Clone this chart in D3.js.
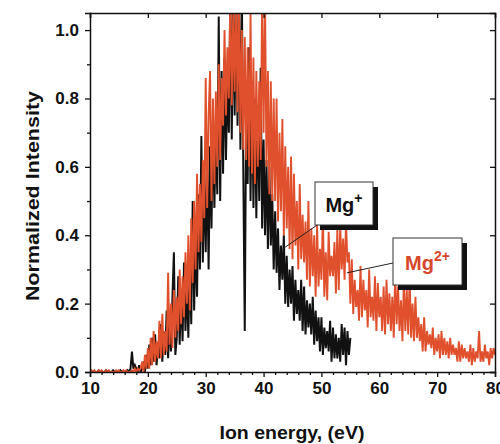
<!DOCTYPE html>
<html>
<head>
<meta charset="utf-8">
<script src="https://cdn.jsdelivr.net/npm/d3@7"></script>
<style>
  body { margin: 0; background: #fff; }
  svg text { font-family: "Liberation Sans", Arial, sans-serif; font-weight: bold; }
</style>
</head>
<body>
<svg id="chart" width="500" height="444"></svg>
<script>
// Ion energy grid of the traces: first point and spacing, in eV
var energyStart = 10;
var energyStep = 0.25;

// Mg+ trace, 10 .. 55 eV, one row per eV
var mgPlus = [
  0, 0, 0, 0,
  0, 0, 0.005, 0,
  0, 0, 0, 0.005,
  0, 0, 0, 0,
  0.005, 0, 0, 0,
  0, 0.005, 0, 0,
  0, 0, 0.005, 0,
  0.01, 0.06, 0.01, 0.02,
  0.01, 0, 0.02, 0,
  0.01, 0.03, 0, 0.05,
  0.01, 0.08, 0.02, 0.1,
  0.03, 0.11, 0.02, 0.07,
  0.04, 0.14, 0.03, 0.12,
  0.05, 0.18, 0.04, 0.15,
  0.06, 0.22, 0.35, 0.05,
  0.1, 0.28, 0.08, 0.24,
  0.09, 0.32, 0.12, 0.26,
  0.1, 0.33, 0.14, 0.5,
  0.18, 0.4, 0.22, 0.52,
  0.3, 0.69, 0.32, 0.58,
  0.35, 0.62, 0.3, 0.66,
  0.42, 0.72, 0.48, 0.7,
  0.52, 1.04, 0.5, 0.88,
  0.58, 0.92, 0.62, 0.85,
  0.7, 1.1, 0.68, 1.1,
  0.75, 1.1, 0.72, 1.1,
  0.65, 1.1, 0.58, 0.12,
  0.8, 0.55, 0.95, 0.5,
  0.85, 0.48, 0.8, 0.45,
  0.78, 0.5, 0.89, 0.42,
  0.68, 0.4, 0.62, 0.36,
  0.6, 0.37, 0.52, 0.3,
  0.47, 0.29, 0.42, 0.24,
  0.37, 0.27, 0.4, 0.2,
  0.34, 0.19, 0.3, 0.2,
  0.31, 0.15, 0.27, 0.17,
  0.24, 0.15, 0.27, 0.12,
  0.25, 0.11, 0.21, 0.13,
  0.2, 0.11, 0.22, 0.08,
  0.18, 0.09, 0.16, 0.06,
  0.16, 0.05, 0.13, 0.07,
  0.12, 0.06, 0.15, 0.03,
  0.13, 0.04, 0.11, 0.04,
  0.1, 0.03, 0.14, 0.05,
  0.13, 0.02, 0.12, 0.05,
  0.1
];

// Mg2+ trace, 10 .. 80 eV, one row per eV
var mgTwoPlus = [
  0, 0.005, 0, 0.005,
  0, 0, 0.005, 0,
  0.005, 0, 0, 0.005,
  0, 0.005, 0, 0,
  0, 0, 0.005, 0,
  0.005, 0, 0, 0.005,
  0, 0.005, 0, 0,
  0, 0.005, 0, 0.01,
  0, 0.01, 0.005, 0.01,
  0.03, 0, 0.05, 0.01,
  0.07, 0.01, 0.1, 0.02,
  0.12, 0.03, 0.09, 0.04,
  0.15, 0.04, 0.17, 0.05,
  0.12, 0.06, 0.29, 0.08,
  0.2, 0.07, 0.24, 0.1,
  0.22, 0.12, 0.3, 0.14,
  0.28, 0.16, 0.35, 0.2,
  0.4, 0.18, 0.45, 0.26,
  0.5, 0.3, 0.58, 0.35,
  0.55, 0.38, 0.62, 0.45,
  0.86, 0.48, 0.75, 0.88,
  0.5, 0.8, 0.55, 0.82,
  0.6, 0.9, 0.62, 0.86,
  0.72, 1.0, 0.75, 0.95,
  0.8, 1.1, 0.78, 1.05,
  0.82, 1.1, 0.76, 1.1,
  0.7, 1.0, 0.65, 0.98,
  0.62, 0.95, 0.6, 1.05,
  0.58, 0.92, 0.55, 0.88,
  0.6, 0.85, 0.62, 1.1,
  0.7, 1.1, 0.6, 0.88,
  0.52, 0.85, 0.5, 0.8,
  0.5, 0.8, 0.44, 0.7,
  0.47, 0.74, 0.4, 0.66,
  0.42, 0.6, 0.36, 0.63,
  0.33, 0.58, 0.37, 0.5,
  0.3, 0.55, 0.33, 0.46,
  0.32, 0.44, 0.27, 0.5,
  0.25, 0.42, 0.28, 0.4,
  0.22, 0.43, 0.25, 0.36,
  0.27, 0.46, 0.22, 0.35,
  0.21, 0.41, 0.28, 0.34,
  0.28, 0.38, 0.23, 0.42,
  0.24, 0.43, 0.3, 0.39,
  0.27, 0.44, 0.32, 0.35,
  0.2, 0.33, 0.17, 0.27,
  0.19, 0.24, 0.15, 0.31,
  0.16, 0.27, 0.18, 0.24,
  0.13, 0.3, 0.16, 0.22,
  0.15, 0.28, 0.12, 0.26,
  0.16, 0.22, 0.12, 0.25,
  0.11, 0.27, 0.14, 0.23,
  0.12, 0.22, 0.1, 0.29,
  0.14, 0.25, 0.12, 0.21,
  0.09, 0.27, 0.12, 0.24,
  0.11, 0.28, 0.1, 0.2,
  0.09, 0.22, 0.1, 0.16,
  0.09, 0.14, 0.06, 0.16,
  0.06, 0.12, 0.08, 0.11,
  0.07, 0.13, 0.05, 0.1,
  0.06, 0.11, 0.04, 0.12,
  0.05, 0.1, 0.05, 0.09,
  0.04, 0.1, 0.05, 0.08,
  0.05, 0.07, 0.03, 0.09,
  0.03, 0.08, 0.04, 0.07,
  0.04, 0.06, 0.03, 0.08,
  0.02, 0.07, 0.03, 0.06,
  0.04, 0.12, 0.03, 0.06,
  0.03, 0.08, 0.04, 0.06,
  0.02, 0.07, 0.04, 0.07,
  0.05
];

var xTicks = [10, 20, 30, 40, 50, 60, 70, 80];
var xMinorTicks = [12, 14, 16, 18, 22, 24, 26, 28, 32, 34, 36, 38, 42, 44, 46, 48,
                   52, 54, 56, 58, 62, 64, 66, 68, 72, 74, 76, 78];
var yTicks = [0, 0.2, 0.4, 0.6, 0.8, 1.0];
var yMinorTicks = [0.1, 0.3, 0.5, 0.7, 0.9];

// Labels on the picture: text, colour, box and the trace point the leader line touches
var labels = [
  { base: "Mg", sup: "+", colour: "#111", box: [315, 182, 58, 43], from: [320, 223], to: [43.3, 0.36] },
  { base: "Mg", sup: "2+", colour: "#d8452b", box: [393, 238, 69, 47], from: [393, 263], to: [54.4, 0.29] }
];

var margin = { top: 13, right: 5, bottom: 72, left: 90 };
var width = 500 - margin.left - margin.right;
var height = 444 - margin.top - margin.bottom;

var svg = d3.select("#chart");
var g = svg.append("g").attr("transform", "translate(" + margin.left + "," + margin.top + ")");

var x = d3.scaleLinear().domain([10, 80]).range([0, width]);
var y = d3.scaleLinear().domain([0, 1.05]).range([height, 0]);

function toPoints(values) {
  return values.map(function (v, i) { return [energyStart + i * energyStep, v]; });
}

g.append("clipPath").attr("id", "plotClip")
  .append("rect").attr("width", width).attr("height", height);

var line = d3.line()
  .x(function (d) { return x(d[0]); })
  .y(function (d) { return y(d[1]); });

var traces = g.append("g").attr("clip-path", "url(#plotClip)");

traces.append("path").datum(toPoints(mgPlus))
  .attr("d", line).attr("fill", "none")
  .attr("stroke", "#111").attr("stroke-width", 2).attr("stroke-linejoin", "miter");

traces.append("path").datum(toPoints(mgTwoPlus))
  .attr("d", line).attr("fill", "none")
  .attr("stroke", "#e0502c").attr("stroke-width", 1.9).attr("stroke-linejoin", "miter");

// Axes. Bottom and left carry labels; top and right only ticks, inside.
function styleAxis(sel) {
  sel.select(".domain").attr("stroke", "#111").attr("stroke-width", 1.5);
  sel.selectAll(".tick line").attr("stroke", "#111").attr("stroke-width", 1.3);
  sel.selectAll(".tick text").attr("fill", "#111").style("font-size", "17px");
  return sel;
}

g.append("g").attr("transform", "translate(0," + height + ")")
  .call(d3.axisBottom(x).tickValues(xMinorTicks).tickSize(3).tickFormat(""))
  .call(styleAxis).select(".domain").remove();
g.append("g").attr("transform", "translate(0," + height + ")")
  .call(d3.axisBottom(x).tickValues(xTicks).tickSize(5).tickPadding(5).tickFormat(d3.format("d")))
  .call(styleAxis);

g.append("g")
  .call(d3.axisLeft(y).tickValues(yMinorTicks).tickSize(3).tickFormat(""))
  .call(styleAxis).select(".domain").remove();
g.append("g")
  .call(d3.axisLeft(y).tickValues(yTicks).tickSize(5).tickPadding(6).tickFormat(d3.format(".1f")))
  .call(styleAxis);

g.append("g")
  .call(d3.axisBottom(x).tickValues(xTicks).tickSize(5).tickFormat(""))
  .call(styleAxis);
g.append("g").attr("transform", "translate(" + width + ",0)")
  .call(d3.axisLeft(y).tickValues(yTicks).tickSize(5).tickFormat(""))
  .call(styleAxis);

// Axis titles
svg.append("text")
  .attr("x", 292).attr("y", 439)
  .attr("text-anchor", "middle").style("font-size", "19px").attr("fill", "#111")
  .attr("textLength", 145).attr("lengthAdjust", "spacingAndGlyphs")
  .text("Ion energy, (eV)");

svg.append("text")
  .attr("transform", "translate(39,196) rotate(-90)")
  .attr("text-anchor", "middle").style("font-size", "19px").attr("fill", "#111")
  .attr("textLength", 210).attr("lengthAdjust", "spacingAndGlyphs")
  .text("Normalized Intensity");

// Labelled boxes with a drop shadow and a leader line to the trace
labels.forEach(function (lab) {
  var b = lab.box;
  svg.append("line")
    .attr("x1", lab.from[0]).attr("y1", lab.from[1])
    .attr("x2", margin.left + x(lab.to[0])).attr("y2", margin.top + y(lab.to[1]))
    .attr("stroke", "#222").attr("stroke-width", 1);
  svg.append("rect")
    .attr("x", b[0] + 5).attr("y", b[1] + 5).attr("width", b[2]).attr("height", b[3])
    .attr("fill", "#111");
  svg.append("rect")
    .attr("x", b[0]).attr("y", b[1]).attr("width", b[2]).attr("height", b[3])
    .attr("fill", "#fff").attr("stroke", "#333").attr("stroke-width", 1);
  var t = svg.append("text")
    .attr("x", b[0] + b[2] / 2).attr("y", b[1] + b[3] / 2 + 8)
    .attr("text-anchor", "middle").style("font-size", "20px").attr("fill", lab.colour);
  t.append("tspan").text(lab.base);
  t.append("tspan").attr("dy", -9).style("font-size", "14px").text(lab.sup);
});
</script>
</body>
</html>
